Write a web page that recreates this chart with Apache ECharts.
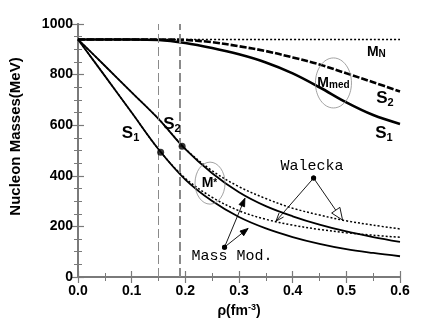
<!DOCTYPE html>
<html>
<head>
<meta charset="utf-8">
<script src="https://cdn.jsdelivr.net/npm/echarts@6/dist/echarts.min.js"></script>
<style>
  html, body { margin: 0; padding: 0; background: #fff; }
  #chart { width: 436px; height: 327px; }
</style>
</head>
<body>
<div id="chart"></div>
<script>
// density grid (fm^-3)
const rho = [0, 0.05, 0.1, 0.15, 0.2, 0.25, 0.3, 0.35, 0.4, 0.45, 0.5, 0.55, 0.6];

// effective masses M* (MeV)
const mStarModS1 = [939, 795, 650, 505, 385, 300, 237, 192, 158, 131, 110, 95, 82];
const mStarModS2 = [939, 835, 730, 625, 505, 410, 335, 280, 240, 207, 180, 158, 139];
const mStarWalS1 = [939, 795, 650, 505, 390, 315, 262, 228, 205, 188, 175, 165, 157];
const mStarWalS2 = [939, 835, 730, 625, 507, 420, 357, 310, 272, 245, 222, 205, 190];

// in-medium masses M_med (MeV)
const mMedS1 = [939, 939, 939, 937, 925, 905, 880, 848, 805, 750, 690, 640, 605];
const mMedS2 = [939, 939, 939, 939, 937, 928, 912, 893, 868, 840, 805, 770, 733];

// free nucleon mass
const mN = [939, 939, 939, 939, 939, 939, 939, 939, 939, 939, 939, 939, 939];

// saturation densities and M* there
const satRho = [0.154, 0.194];
const satMass = [493, 517];

const xTicks = ['0.0', '0.1', '0.2', '0.3', '0.4', '0.5', '0.6'];
const yTicks = ['0', '200', '400', '600', '800', '1000'];

const pairs = (ys) => rho.map((x, i) => [x, ys[i]]);

const chart = echarts.init(document.getElementById('chart'));

const labelFont = 'Liberation Sans, Arial, sans-serif';
const axisGray = '#7a7a7a';

const baseAxis = {
    axisLine: { show: true, lineStyle: { color: axisGray, width: 2 } },
    axisTick: { show: true, inside: true, length: 6, lineStyle: { color: axisGray, width: 1.2 } },
    minorTick: { show: true, length: 4, lineStyle: { color: axisGray, width: 1 } },
    splitLine: { show: false }
};

function line(name, ys, type, width) {
    return {
        name: name,
        type: 'line',
        data: pairs(ys),
        smooth: 0.35,
        showSymbol: false,
        lineStyle: { color: '#000', width: width, type: type },
        z: type === 'solid' ? 3 : 2
    };
}

const option = {
    animation: false,
    backgroundColor: '#fff',
    grid: { left: 75, right: 36, top: 24, bottom: 50 },
    xAxis: [
        Object.assign({}, baseAxis, {
            type: 'value', min: 0, max: 0.6, interval: 0.1,
            minorTick: Object.assign({}, baseAxis.minorTick, { splitNumber: 2 }),
            axisLabel: {
                color: '#000', fontFamily: labelFont, fontWeight: 'bold', fontSize: 14, margin: 7,
                formatter: (v) => xTicks[Math.round(v * 10)]
            },
            name: 'ρ(fm{sup|-3})',
            nameLocation: 'middle',
            nameGap: 24,
            nameTextStyle: {
                color: '#000', fontFamily: labelFont, fontWeight: 'bold', fontSize: 14,
                rich: { sup: { fontSize: 9, fontWeight: 'bold', fontFamily: labelFont, padding: [0, 0, 7, 0] } }
            }
        }),
        Object.assign({}, baseAxis, {
            type: 'value', position: 'top', min: 0, max: 0.6, interval: 0.1,
            minorTick: Object.assign({}, baseAxis.minorTick, { splitNumber: 2 }),
            axisLabel: { show: false }
        })
    ],
    yAxis: [
        Object.assign({}, baseAxis, {
            type: 'value', min: 0, max: 1000, interval: 200,
            minorTick: Object.assign({}, baseAxis.minorTick, { splitNumber: 4 }),
            axisLabel: {
                color: '#000', fontFamily: labelFont, fontWeight: 'bold', fontSize: 14, margin: 5,
                formatter: (v) => yTicks[Math.round(v / 200)]
            },
            name: 'Nucleon Masses(MeV)',
            nameLocation: 'middle',
            nameGap: 55,
            nameTextStyle: {
                color: '#000', fontFamily: labelFont, fontWeight: 'bold', fontSize: 15,
                padding: [0, 0, 0, 28]
            }
        }),
        Object.assign({}, baseAxis, {
            type: 'value', position: 'right', min: 0, max: 1000, interval: 200,
            minorTick: Object.assign({}, baseAxis.minorTick, { splitNumber: 4 }),
            axisLabel: { show: false }
        })
    ],
    series: [
        line('M_N', mN, [2, 2], 1.5),
        line('Walecka S1', mStarWalS1, [2, 2], 1.5),
        line('Walecka S2', mStarWalS2, [2, 2], 1.5),
        line('Mass Mod. S1', mStarModS1, 'solid', 1.8),
        line('Mass Mod. S2', mStarModS2, 'solid', 1.8),
        line('M_med S1', mMedS1, 'solid', 2.6),
        line('M_med S2', mMedS2, [7, 2], 2.6),
        {
            name: 'saturation',
            type: 'scatter',
            data: satRho.map((x, i) => [x, satMass[i]]),
            symbolSize: 7,
            itemStyle: { color: '#000' },
            z: 5,
            markLine: {
                silent: true,
                symbol: 'none',
                label: { show: false },
                data: [
                    { xAxis: satRho[0], lineStyle: { color: '#8a8a8a', width: 1, type: [9, 4] } },
                    { xAxis: satRho[1], lineStyle: { color: '#8a8a8a', width: 2, type: [9, 4] } }
                ]
            }
        }
    ]
};

chart.setOption(option);

// annotations placed in data coordinates
const toPx = (p) => chart.convertToPixel({ xAxisIndex: 0, yAxisIndex: 0 }, p);

const sRich = {
    b: { fontFamily: labelFont, fontWeight: 'bold', fontSize: 17, fill: '#000' },
    s: { fontFamily: labelFont, fontWeight: 'bold', fontSize: 11, fill: '#000', padding: [9, 0, 0, 0] },
    m: { fontFamily: labelFont, fontWeight: 'bold', fontSize: 14, fill: '#000' },
    ms: { fontFamily: labelFont, fontWeight: 'bold', fontSize: 10, fill: '#000', padding: [5, 0, 0, 0] },
    st: { fontFamily: labelFont, fontWeight: 'bold', fontSize: 10, fill: '#000' }
};

const labels = [
    { text: '{b|S}{s|1}', at: [0.098, 567] },
    { text: '{b|S}{s|2}', at: [0.175, 603] },
    { text: '{b|S}{s|2}', at: [0.572, 706] },
    { text: '{b|S}{s|1}', at: [0.570, 567] },
    { text: '{m|M}{ms|N}', at: [0.556, 889] },
    { text: '{m|M}{ms|med}', at: [0.476, 767] },
    { text: '{m|M}{st|*}', at: [0.245, 372] }
];

const circles = [
    { at: [0.476, 767], rx: 18, ry: 25 },
    { at: [0.246, 371], rx: 15, ry: 21 }
];

const notes = [
    { text: 'Walecka', at: [0.436, 437] },
    { text: 'Mass Mod.', at: [0.287, 82] }
];

const arrows = [
    { from: [0.439, 391], to: [0.369, 221], head: 'open' },
    { from: [0.439, 391], to: [0.493, 225], head: 'triangle' },
    { from: [0.273, 118], to: [0.311, 311], head: 'filled' },
    { from: [0.273, 118], to: [0.317, 192], head: 'filled' }
];

const g = [];

circles.forEach((c) => {
    const p = toPx(c.at);
    g.push({
        type: 'ellipse',
        shape: { cx: p[0], cy: p[1], rx: c.rx, ry: c.ry },
        style: { fill: 'none', stroke: '#8a8a8a', lineWidth: 0.8 },
        z: 10
    });
});

labels.forEach((l) => {
    const p = toPx(l.at);
    g.push({
        type: 'text', x: p[0], y: p[1], z: 12,
        style: { text: l.text, rich: sRich, align: 'center', verticalAlign: 'middle' }
    });
});

notes.forEach((n) => {
    const p = toPx(n.at);
    g.push({
        type: 'text', x: p[0], y: p[1], z: 12,
        style: {
            text: n.text, fill: '#000', fontFamily: 'Liberation Mono, Courier New, monospace',
            fontSize: 15, align: 'center', verticalAlign: 'middle'
        }
    });
});

arrows.forEach((a) => {
    const p0 = toPx(a.from);
    const p1 = toPx(a.to);
    const dx = p1[0] - p0[0];
    const dy = p1[1] - p0[1];
    const len = Math.sqrt(dx * dx + dy * dy);
    const ux = dx / len, uy = dy / len;
    const nx = -uy, ny = ux;
    const L = a.head === 'triangle' ? 12 : 8;
    const W = a.head === 'triangle' ? 5 : 3;
    const bx = p1[0] - ux * L, by = p1[1] - uy * L;
    const b1 = [bx + nx * W, by + ny * W];
    const b2 = [bx - nx * W, by - ny * W];
    const shaftEnd = a.head === 'triangle' ? [bx, by] : p1;
    g.push({
        type: 'line', z: 11,
        shape: { x1: p0[0], y1: p0[1], x2: shaftEnd[0], y2: shaftEnd[1] },
        style: { stroke: '#000', lineWidth: 0.9 }
    });
    if (a.head === 'open') {
        g.push({
            type: 'polyline', z: 11,
            shape: { points: [b1, p1, b2] },
            style: { stroke: '#000', lineWidth: 0.9, fill: 'none' }
        });
    } else {
        g.push({
            type: 'polygon', z: 11,
            shape: { points: [p1, b1, b2] },
            style: { stroke: '#000', lineWidth: 0.9, fill: a.head === 'filled' ? '#000' : '#fff' }
        });
    }
    g.push({
        type: 'circle', z: 12,
        shape: { cx: p0[0], cy: p0[1], r: 2.5 },
        style: { fill: '#000' }
    });
});

chart.setOption({ graphic: g });
</script>
</body>
</html>
